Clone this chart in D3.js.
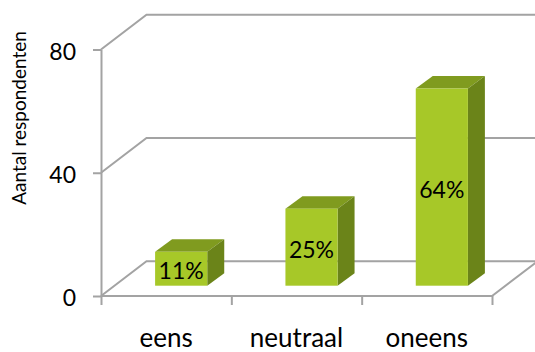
<!DOCTYPE html>
<html>
<head>
<meta charset="utf-8">
<script src="https://cdn.jsdelivr.net/npm/d3@7"></script>
<style>
  html, body { margin: 0; padding: 0; background: #ffffff; }
  svg { display: block; }
  text { font-family: Lato, "Open Sans", sans-serif; fill: #000; }
</style>
</head>
<body>
<script>
// Survey answers and number of respondents per answer
const categories = ["eens", "neutraal", "oneens"];
const values = [11, 25, 64];
const valueLabels = ["11%", "25%", "64%"];
const yTicks = [0, 40, 80];
const yTitle = "Aantal respondenten";

const W = 535, H = 352;

// Projection of the 3D box: front plane, wall depth and bar placement in depth
const front = { left: 101, right: 492, bottom: 296, top: 49.5 };
const wall = { dx: 45.5, dy: -34.7 };
const barStart = { dx: 15, dy: -10.3 };
const barDepth = { dx: 17, dy: -12.5 };
const barFrac = 0.4;

const colors = {
  grid: "#a3a3a3",
  face: "#a7c828",
  top: "#809b1f",
  side: "#6b8419"
};

const svg = d3.select("body").append("svg")
  .attr("width", W).attr("height", H);

const y = d3.scaleLinear().domain([0, 80]).range([front.bottom, front.top]);
const x = d3.scaleBand().domain(categories).range([front.left, front.right]);
const edges = d3.scaleLinear().domain([0, categories.length]).range([front.left, front.right]);

// Back wall gridlines with their diagonal returns to the front axis
const grid = svg.append("g").attr("fill", "none")
  .attr("stroke", colors.grid).attr("stroke-width", 2);

yTicks.forEach(t => {
  const p = d3.path();
  p.moveTo(front.left, y(t));
  p.lineTo(front.left + wall.dx, y(t) + wall.dy);
  p.lineTo(front.right + wall.dx, y(t) + wall.dy);
  grid.append("path").attr("d", p.toString());
});

// Floor: front edge and right-hand diagonal
const floor = d3.path();
floor.moveTo(front.left, y(0));
floor.lineTo(front.right, y(0));
floor.lineTo(front.right + wall.dx, y(0) + wall.dy);
grid.append("path").attr("d", floor.toString());

// Value axis on the front left edge
const yAxis = svg.append("g")
  .attr("transform", `translate(${front.left},0)`)
  .call(d3.axisLeft(y).tickValues(yTicks).tickSize(8).tickSizeOuter(0).tickPadding(17));
yAxis.select(".domain").attr("stroke", colors.grid).attr("stroke-width", 2);
yAxis.selectAll(".tick line").attr("stroke", colors.grid).attr("stroke-width", 2);
yAxis.selectAll(".tick text")
  .attr("font-size", 23).attr("font-family", "Lato, sans-serif")
  .attr("dy", "0.42em").attr("fill", "#000");

// Category separators below the floor
const xAxis = svg.append("g")
  .attr("transform", `translate(0,${front.bottom})`)
  .call(d3.axisBottom(edges).tickValues(d3.range(categories.length + 1))
    .tickSize(9).tickFormat(""));
xAxis.select(".domain").remove();
xAxis.selectAll(".tick line").attr("stroke", colors.grid).attr("stroke-width", 2);

// Category labels
svg.append("g").selectAll("text")
  .data(categories).join("text")
  .attr("x", d => x(d) + x.bandwidth() / 2)
  .attr("y", 347)
  .attr("text-anchor", "middle")
  .attr("font-size", 26)
  .text(d => d);

// 3D bars
const bw = x.bandwidth() * barFrac;
const bars = svg.append("g").selectAll("g")
  .data(categories.map((c, i) => ({ c, v: values[i], label: valueLabels[i] })))
  .join("g");

const geom = d => {
  const fx = x(d.c) + x.bandwidth() / 2 - bw / 2 + barStart.dx;
  const fy0 = y(0) + barStart.dy;
  const fy1 = y(d.v) + barStart.dy;
  return { fx, fy0, fy1 };
};
const poly = pts => "M" + pts.map(p => p.join(",")).join("L") + "Z";

bars.append("path")
  .attr("fill", colors.top)
  .attr("d", d => {
    const g = geom(d);
    return poly([[g.fx, g.fy1], [g.fx + barDepth.dx, g.fy1 + barDepth.dy],
      [g.fx + bw + barDepth.dx, g.fy1 + barDepth.dy], [g.fx + bw, g.fy1]]);
  });

bars.append("path")
  .attr("fill", colors.side)
  .attr("d", d => {
    const g = geom(d);
    return poly([[g.fx + bw, g.fy1], [g.fx + bw + barDepth.dx, g.fy1 + barDepth.dy],
      [g.fx + bw + barDepth.dx, g.fy0 + barDepth.dy], [g.fx + bw, g.fy0]]);
  });

bars.append("rect")
  .attr("fill", colors.face)
  .attr("x", d => geom(d).fx)
  .attr("y", d => geom(d).fy1)
  .attr("width", bw)
  .attr("height", d => geom(d).fy0 - geom(d).fy1);

bars.append("text")
  .attr("x", d => geom(d).fx + bw / 2)
  .attr("y", d => (geom(d).fy0 + geom(d).fy1) / 2 + 1.5)
  .attr("text-anchor", "middle")
  .attr("dominant-baseline", "central")
  .attr("font-size", 23)
  .text(d => d.label);

// Axis title
svg.append("text")
  .attr("transform", "translate(18,118) rotate(-90)")
  .attr("text-anchor", "middle")
  .attr("dominant-baseline", "central")
  .attr("font-size", 19)
  .text(yTitle);
</script>
</body>
</html>
